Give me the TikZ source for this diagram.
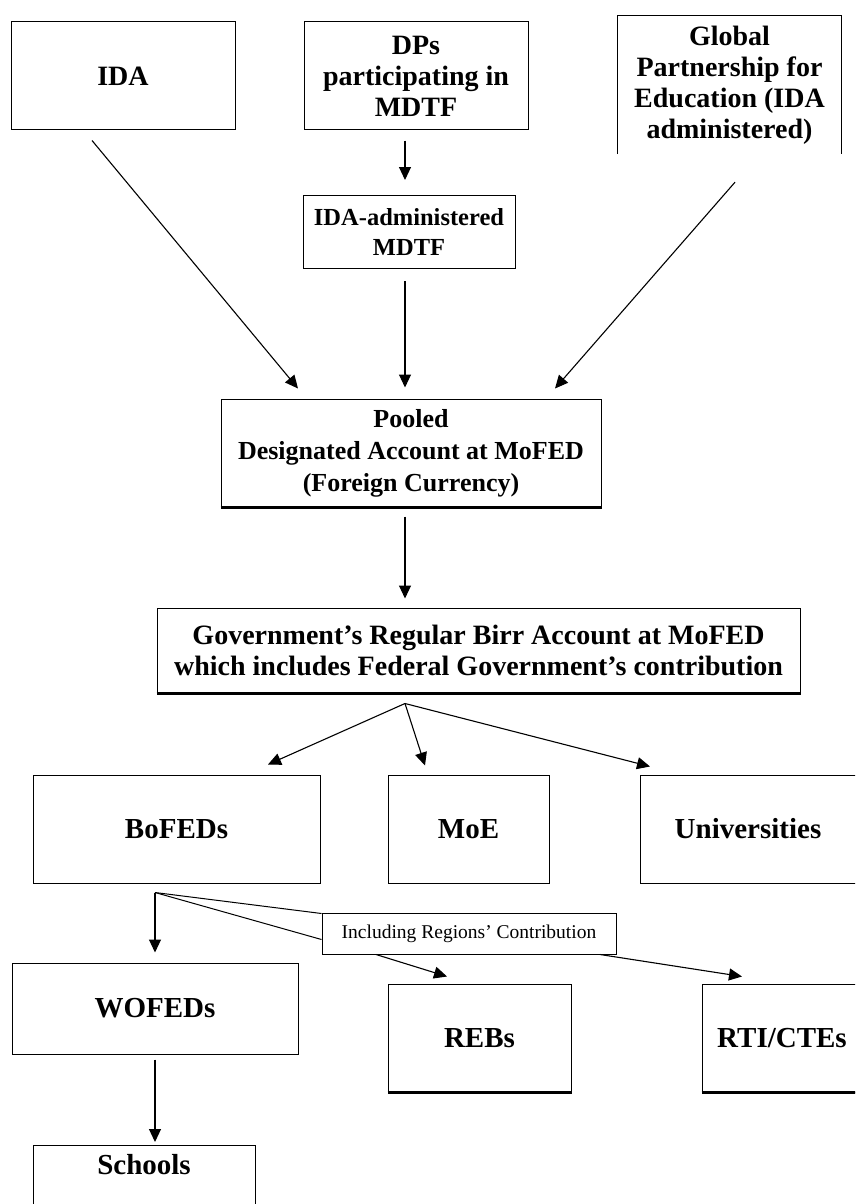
\documentclass[tikz,border=0pt]{standalone}
\usepackage{fontspec}
\setmainfont{Liberation Serif}
\usetikzlibrary{arrows.meta,calc}
\tikzset{
  box/.style={draw, line width=1pt, align=center, inner sep=0pt,
    font=\bfseries\fontsize{28}{31}\selectfont},
  big/.style={font=\bfseries\fontsize{29}{33}\selectfont},
  arr/.style={line width=1.1pt, -{Triangle[length=13pt,width=12pt]}},
  ln/.style={line width=1pt},
  heavy/.style={line width=2.6pt},
}
\begin{document}
\begin{tikzpicture}[x=1pt,y=-1pt]
  \useasboundingbox (0,0) rectangle (855,1204);
  \clip (0,0) rectangle (855,1204);
  % sources
  \node[box, minimum width=224, minimum height=108] (ida) at (123,76) {IDA};
  \node[box, minimum width=224, minimum height=108] (dps) at (416,76)
    {DPs\\participating in\\MDTF};
  \node[align=center, inner sep=0pt, minimum width=223, minimum height=138,
    font=\bfseries\fontsize{28}{31}\selectfont] (gpe) at (729.5,85)
    {Global\\Partnership for\\Education (IDA\\administered)};
  \draw[ln] (gpe.south west) -- (gpe.north west) -- (gpe.north east) -- (gpe.south east);
  \node[box, minimum width=212, minimum height=73,
    font=\bfseries\fontsize{24.5}{30}\selectfont] (mdtf) at (409,232)
    {IDA-administered\\MDTF};
  % accounts
  \node[box, minimum width=380, minimum height=108,
    font=\bfseries\fontsize{26}{32}\selectfont] (pool) at (411,453)
    {Pooled\\Designated Account at MoFED\\(Foreign Currency)};
  \node[box, minimum width=643, minimum height=85] (govt) at (478.5,650.5)
    {Government's Regular Birr Account at MoFED\\which includes Federal Government's contribution};
  \draw[heavy] (pool.south west) -- (pool.south east);
  \draw[heavy] (govt.south west) -- (govt.south east);
  % spending units
  \node[box, big, minimum width=287, minimum height=108] (bofeds) at (176.5,829) {BoFEDs};
  \node[box, big, minimum width=161, minimum height=108] (moe) at (468.5,829) {MoE};
  \node[box, big, minimum width=216, minimum height=108] (univ) at (748,829) {Universities};
  \node[draw, line width=1pt, inner sep=0pt, minimum width=294, minimum height=41,
    font=\fontsize{19.5}{21}\selectfont] (incl) at (469,933.5) {Including Regions' Contribution};
  \node[box, big, minimum width=286, minimum height=91] (wofeds) at (155,1008.5) {WOFEDs};
  \node[box, big, minimum width=183, minimum height=108] (rebs) at (479.5,1038) {REBs};
  \node[box, big, minimum width=160, minimum height=108] (rti) at (782,1038) {RTI/CTEs};
  \node[box, big, minimum width=222, anchor=north, inner ysep=9pt, text depth=50pt]
    (schools) at (144,1145) {Schools};
  \draw[heavy] (rebs.south west) -- (rebs.south east);
  \draw[heavy] (rti.south west) -- (rti.south east);
  % flows
  \draw[arr] ($(ida.south)+(-31,10)$) -- ($(pool.north)+(-113,-10)$);
  \draw[arr] ($(dps.south)+(-11,10)$) -- ($(mdtf.north)+(-4,-15)$);
  \draw[arr] ($(gpe.south)+(5.5,28)$) -- ($(pool.north)+(144,-10)$);
  \draw[arr] ($(mdtf.south)+(-4,12)$) -- ($(pool.north)+(-6,-11)$);
  \draw[arr] ($(pool.south)+(-6,9)$) -- ($(govt.north)+(-73.5,-9)$);
  \coordinate (split1) at ($(govt.south)+(-73.5,10)$);
  \draw[arr] (split1) -- ($(bofeds.north)+(91.5,-10)$);
  \draw[arr] (split1) -- ($(moe.north)+(-43.5,-9)$);
  \draw[arr] (split1) -- ($(univ.north)+(-98,-8)$);
  \coordinate (split2) at ($(bofeds.south)+(-21.5,9)$);
  \draw[arr] (split2) -- ($(wofeds.north)+(0,-10)$);
  \draw[ln] (split2) -- ($(incl.north west)+(0,1)$);
  \draw[ln] (split2) -- ($(incl.south west)+(0,-15)$);
  \draw[arr] ($(incl.south)+(-93,0)$) -- ($(rebs.north)+(-32.5,-7)$);
  \draw[arr] ($(incl.south)+(131,0)$) -- ($(rti.north)+(-40,-7)$);
  \draw[arr] ($(wofeds.south)+(0,5)$) -- ($(schools.north)+(11,-3)$);
\end{tikzpicture}
\end{document}
